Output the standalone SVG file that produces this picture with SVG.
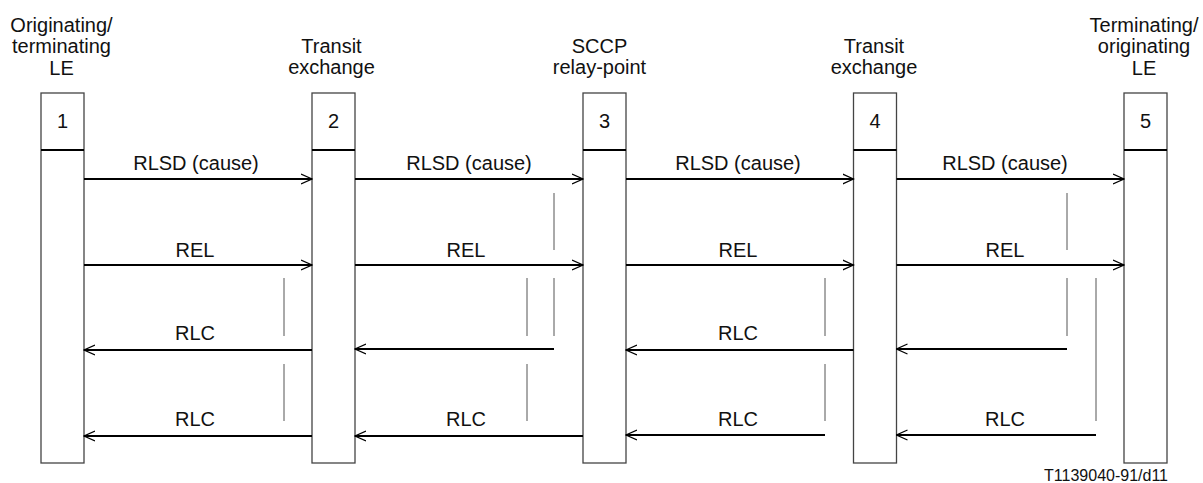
<svg xmlns="http://www.w3.org/2000/svg" width="1203" height="483" viewBox="0 0 1203 483">
<style>
text{font-family:"Liberation Sans",Arial,sans-serif;font-size:20px;fill:#111;text-anchor:middle}
.box{fill:#fff;stroke:#444;stroke-width:1.3}
.div{stroke:#000;stroke-width:2}
.msg{stroke:#000;stroke-width:2;fill:none}
.tm{stroke:#555;stroke-width:1;fill:none}
.foot{font-size:16px;text-anchor:end}
</style>
<defs>
<marker id="ah" viewBox="0 0 12 12" refX="11" refY="6" markerWidth="12" markerHeight="12" markerUnits="userSpaceOnUse" orient="auto">
<path d="M0,1 L11,6 L0,11" fill="none" stroke="#000" stroke-width="1.2"/>
</marker>
</defs>
<g id="node1">
<text x="61.5" y="32">Originating/</text>
<text x="61.5" y="53">terminating</text>
<text x="61.5" y="75">LE</text>
<rect class="box" x="41" y="93" width="43" height="370"/>
<line class="div" x1="41" y1="150" x2="84" y2="150"/>
<text x="62.5" y="128">1</text>
</g>
<g id="node2">
<text x="331.5" y="52.5">Transit</text>
<text x="331.5" y="73.5">exchange</text>
<rect class="box" x="312" y="93" width="43" height="370"/>
<line class="div" x1="312" y1="150" x2="355" y2="150"/>
<text x="333.5" y="128">2</text>
</g>
<g id="node3">
<text x="599.5" y="52.5">SCCP</text>
<text x="599.5" y="73.5">relay-point</text>
<rect class="box" x="583" y="93" width="43" height="370"/>
<line class="div" x1="583" y1="150" x2="626" y2="150"/>
<text x="604.5" y="128">3</text>
</g>
<g id="node4">
<text x="874" y="52.5">Transit</text>
<text x="874" y="73.5">exchange</text>
<rect class="box" x="853.5" y="93" width="43" height="370"/>
<line class="div" x1="853.5" y1="150" x2="896.5" y2="150"/>
<text x="875" y="128">4</text>
</g>
<g id="node5">
<text x="1144" y="32">Terminating/</text>
<text x="1144" y="53">originating</text>
<text x="1144" y="75">LE</text>
<rect class="box" x="1124" y="93" width="43" height="370"/>
<line class="div" x1="1124" y1="150" x2="1167" y2="150"/>
<text x="1145.5" y="128">5</text>
</g>
<g id="connectors">
<line class="msg" x1="84" y1="179" x2="312" y2="179" marker-end="url(#ah)"/>
<line class="msg" x1="355" y1="179" x2="583" y2="179" marker-end="url(#ah)"/>
<line class="msg" x1="626" y1="179" x2="853.5" y2="179" marker-end="url(#ah)"/>
<line class="msg" x1="896.5" y1="179" x2="1124" y2="179" marker-end="url(#ah)"/>
<line class="msg" x1="84" y1="265" x2="312" y2="265" marker-end="url(#ah)"/>
<line class="msg" x1="355" y1="265" x2="583" y2="265" marker-end="url(#ah)"/>
<line class="msg" x1="626" y1="265" x2="853.5" y2="265" marker-end="url(#ah)"/>
<line class="msg" x1="896.5" y1="265" x2="1124" y2="265" marker-end="url(#ah)"/>
<line class="msg" x1="312" y1="350" x2="84" y2="350" marker-end="url(#ah)"/>
<line class="msg" x1="554" y1="349" x2="355" y2="349" marker-end="url(#ah)"/>
<line class="msg" x1="853.5" y1="350" x2="626" y2="350" marker-end="url(#ah)"/>
<line class="msg" x1="1067" y1="349" x2="896.5" y2="349" marker-end="url(#ah)"/>
<line class="msg" x1="312" y1="436" x2="84" y2="436" marker-end="url(#ah)"/>
<line class="msg" x1="583" y1="436" x2="355" y2="436" marker-end="url(#ah)"/>
<line class="msg" x1="825" y1="435" x2="626" y2="435" marker-end="url(#ah)"/>
<line class="msg" x1="1096" y1="435" x2="896.5" y2="435" marker-end="url(#ah)"/>
<line class="tm" x1="284" y1="278" x2="284" y2="336"/>
<line class="tm" x1="284" y1="364" x2="284" y2="421"/>
<line class="tm" x1="554" y1="193" x2="554" y2="250"/>
<line class="tm" x1="554" y1="278" x2="554" y2="336"/>
<line class="tm" x1="527" y1="278" x2="527" y2="336"/>
<line class="tm" x1="527" y1="364" x2="527" y2="421"/>
<line class="tm" x1="825" y1="278" x2="825" y2="336"/>
<line class="tm" x1="825" y1="364" x2="825" y2="421"/>
<line class="tm" x1="1067" y1="193" x2="1067" y2="250"/>
<line class="tm" x1="1067" y1="278" x2="1067" y2="336"/>
<line class="tm" x1="1096" y1="278" x2="1096" y2="421"/>
</g>
<g id="labels">
<text x="196" y="170">RLSD (cause)</text>
<text x="469" y="170">RLSD (cause)</text>
<text x="738" y="170">RLSD (cause)</text>
<text x="1005" y="170">RLSD (cause)</text>
<text x="195" y="257">REL</text>
<text x="466" y="257">REL</text>
<text x="738" y="257">REL</text>
<text x="1005" y="257">REL</text>
<text x="195" y="340">RLC</text>
<text x="738" y="340">RLC</text>
<text x="195" y="426">RLC</text>
<text x="466" y="426">RLC</text>
<text x="738" y="426">RLC</text>
<text x="1005" y="426">RLC</text>
<text class="foot" x="1168" y="481">T1139040-91/d11</text>
</g>
</svg>
